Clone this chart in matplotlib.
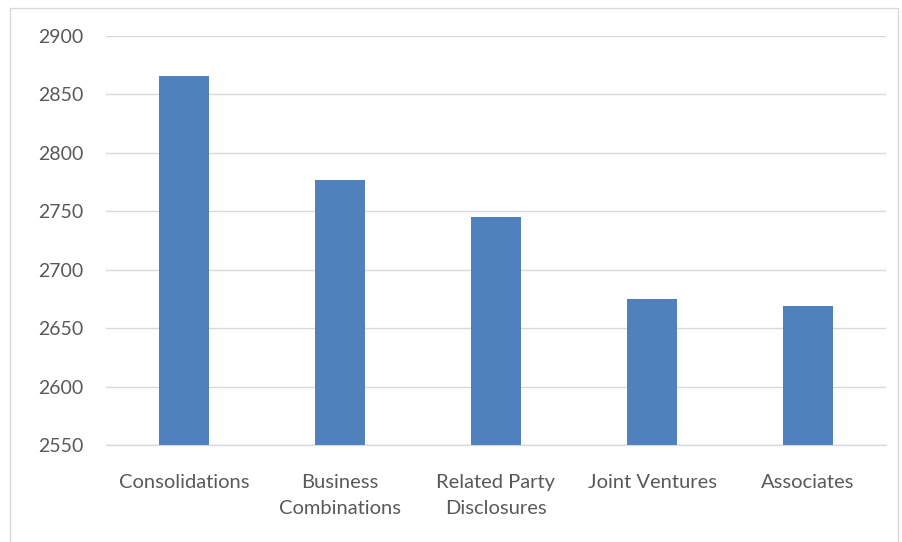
import matplotlib
matplotlib.use("Agg")
import matplotlib.pyplot as plt
from matplotlib.patches import Rectangle

categories = ["Consolidations", "Business\nCombinations", "Related Party\nDisclosures", "Joint Ventures", "Associates"]
values = [2866, 2777, 2745, 2675, 2669]
yticks = [2550, 2600, 2650, 2700, 2750, 2800, 2850, 2900]

plt.rcParams['font.family'] = ['Lato', 'DejaVu Sans']

fig = plt.figure(figsize=(9.02, 5.42), dpi=100)
ax = fig.add_axes([106/902, 1-445/542, (886-106)/902, (445-36)/542])

x = list(range(len(categories)))
ax.bar(x, [v - 2550 for v in values], bottom=2550, width=0.315, color="#4f81bd", zorder=3)

ax.set_xlim(-0.5, len(categories) - 0.5)
ax.set_ylim(2550, 2900)
ax.set_yticks(yticks)
ax.set_yticklabels([str(t) for t in yticks])
ax.set_xticks(x)
ax.set_xticklabels(categories, linespacing=1.6)
ax.tick_params(axis='both', length=0, labelsize=14, labelcolor="#595959")
ax.tick_params(axis='x', labelsize=14.5)
ax.tick_params(axis='y', pad=16)
ax.tick_params(axis='x', pad=21)
ax.grid(axis='y', color="#d9d9d9", linewidth=1, zorder=0)
for s in ["top", "right", "left"]:
    ax.spines[s].set_visible(False)
ax.spines["bottom"].set_color("#d9d9d9")
ax.spines["bottom"].set_linewidth(1)

fig.patches.append(Rectangle((10/902, -0.01), (898-10)/902, 1 - 8/542 + 0.01,
                             transform=fig.transFigure, fill=False,
                             edgecolor="#d9d9d9", linewidth=1))

fig.savefig("out.png", dpi=100)
